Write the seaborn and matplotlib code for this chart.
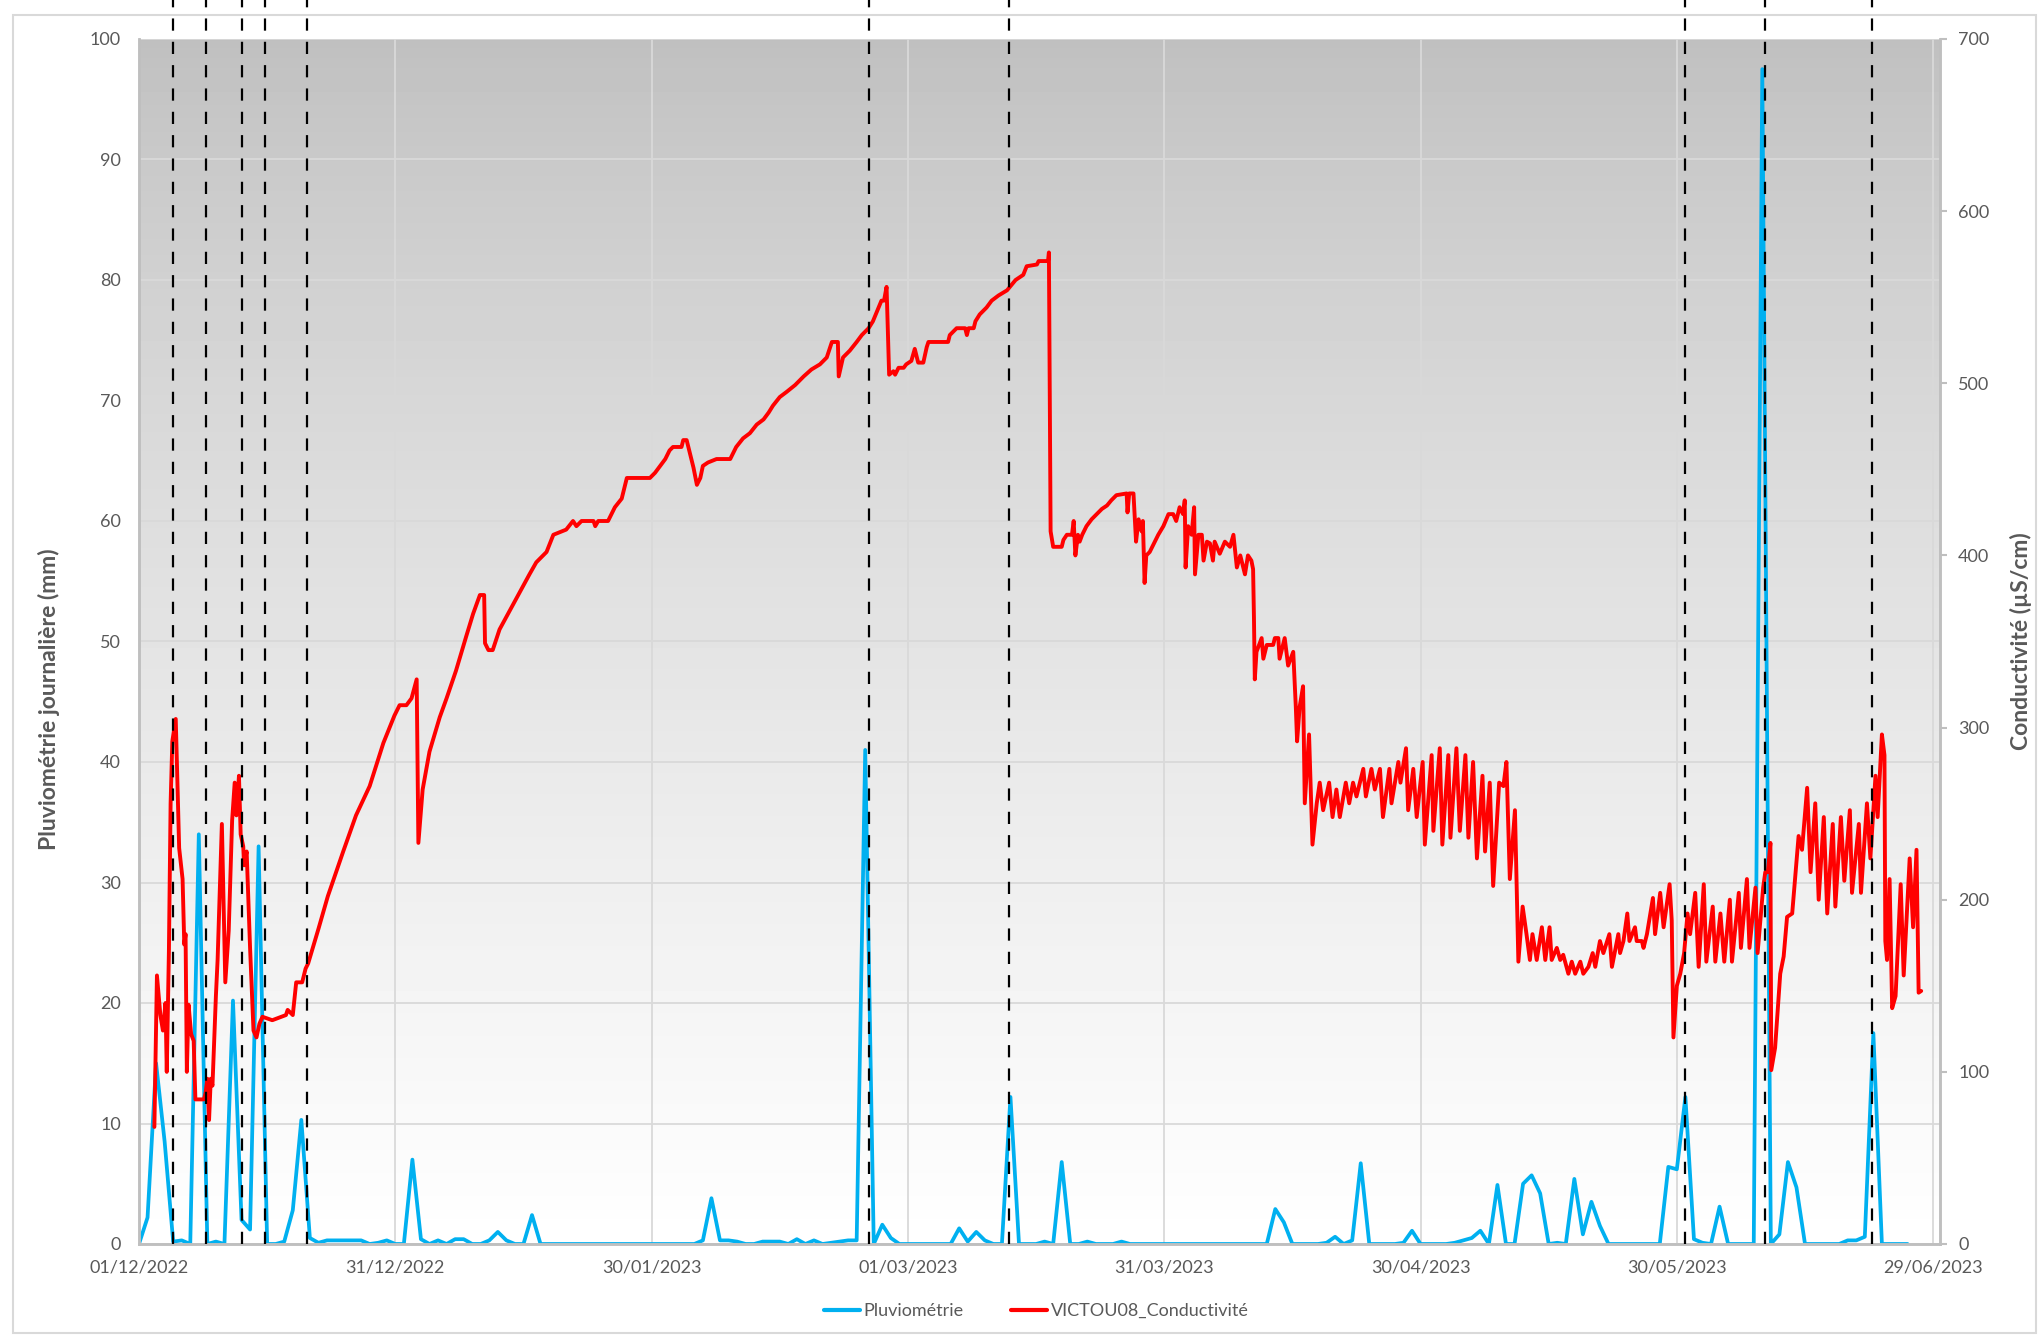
import numpy as np
import pandas as pd
import matplotlib
matplotlib.use("Agg")
import matplotlib.pyplot as plt
import seaborn as sns
from matplotlib.patches import Rectangle
from matplotlib.lines import Line2D

START = pd.Timestamp("2022-12-01")

# Daily rainfall (mm), one value per day starting 01/12/2022
rain_mm = [
    0.0, 2.2, 15.0, 8.5, 0.2, 0.3, 0.0, 34.0, 0.0, 0.2,
    0.0, 20.2, 2.0, 1.2, 33.0, 0.0, 0.0, 0.2, 2.8, 10.3,
    0.5, 0.1, 0.3, 0.3, 0.3, 0.3, 0.3, 0.0, 0.1, 0.3,
    0.0, 0.0, 7.0, 0.4, 0.0, 0.3, 0.0, 0.4, 0.4, 0.0,
    0.0, 0.3, 1.0, 0.3, 0.0, 0.0, 2.4, 0.0, 0.0, 0.0,
    0.0, 0.0, 0.0, 0.0, 0.0, 0.0, 0.0, 0.0, 0.0, 0.0,
    0.0, 0.0, 0.0, 0.0, 0.0, 0.0, 0.3, 3.8, 0.3, 0.3,
    0.2, 0.0, 0.0, 0.2, 0.2, 0.2, 0.0, 0.4, 0.0, 0.3,
    0.0, 0.1, 0.2, 0.3, 0.3, 41.0, 0.0, 1.6, 0.5, 0.0,
    0.0, 0.0, 0.0, 0.0, 0.0, 0.0, 1.3, 0.2, 1.0, 0.3,
    0.0, 0.0, 12.2, 0.0, 0.0, 0.0, 0.2, 0.0, 6.8, 0.0,
    0.0, 0.2, 0.0, 0.0, 0.0, 0.2, 0.0, 0.0, 0.0, 0.0,
    0.0, 0.0, 0.0, 0.0, 0.0, 0.0, 0.0, 0.0, 0.0, 0.0,
    0.0, 0.0, 0.0, 2.9, 1.8, 0.0, 0.0, 0.0, 0.0, 0.1,
    0.6, 0.0, 0.3, 6.7, 0.0, 0.0, 0.0, 0.0, 0.1, 1.1,
    0.0, 0.0, 0.0, 0.0, 0.1, 0.3, 0.5, 1.1, 0.0, 4.9,
    0.0, 0.0, 5.0, 5.7, 4.2, 0.0, 0.1, 0.0, 5.4, 0.8,
    3.5, 1.5, 0.0, 0.0, 0.0, 0.0, 0.0, 0.0, 0.0, 6.4,
    6.2, 12.2, 0.4, 0.1, 0.0, 3.1, 0.0, 0.0, 0.0, 0.0,
    97.5, 0.0, 0.8, 6.8, 4.7, 0.0, 0.0, 0.0, 0.0, 0.0,
    0.3, 0.3, 0.6, 17.5, 0.0, 0.0, 0.0, 0.0,
]

# Conductivity (µS/cm) as (days since 01/12/2022, value) pairs, by period
cond_december = [
    (1.8, 68), (2.1, 156), (2.5, 133), (2.8, 124), (3.1, 140), (3.25, 100),
    (3.5, 170), (3.7, 256), (3.9, 292), (4.3, 305), (4.7, 230), (5.1, 212),
    (5.3, 174), (5.45, 180), (5.6, 100), (5.8, 139), (6.1, 122), (6.4, 118),
    (6.6, 84), (7.6, 84), (7.8, 88), (8.0, 96), (8.2, 72), (8.4, 96),
    (8.6, 92), (9.0, 144), (9.2, 165), (9.7, 244), (10.1, 152), (10.5, 182),
    (10.9, 246), (11.2, 268), (11.4, 249), (11.7, 272), (11.9, 238), (12.2, 231),
    (12.3, 220), (12.6, 228), (13.0, 172), (13.4, 124), (13.75, 120), (14.1, 128),
    (14.45, 132), (15.6, 130), (17.2, 133), (17.4, 136), (18.0, 133), (18.4, 152),
    (19.1, 152), (19.5, 160), (19.8, 163), (21.0, 183), (22.1, 202), (23.9, 228),
    (25.4, 249), (27.0, 266), (28.6, 291), (29.9, 307),
]
cond_january = [
    (30.5, 313), (31.3, 313), (31.9, 317), (32.5, 328), (32.7, 233), (33.2, 264),
    (34.0, 286), (35.2, 306), (36.0, 317), (37.1, 333), (38.3, 353), (39.1, 366),
    (39.9, 377), (40.4, 377), (40.5, 349), (40.9, 345), (41.4, 345), (42.2, 357),
    (43.4, 368), (44.6, 379), (45.7, 389), (46.5, 396), (47.7, 402), (48.5, 412),
    (50.0, 415), (50.8, 420), (51.2, 417), (51.8, 420), (53.2, 420), (53.4, 417),
    (53.75, 420), (54.9, 420), (55.7, 428), (56.5, 433), (57.1, 445), (59.8, 445),
]
cond_february = [
    (60.4, 448), (61.0, 452), (61.6, 456), (62.1, 461), (62.5, 463), (63.5, 463),
    (63.7, 467), (64.1, 467), (64.5, 459), (64.9, 451), (65.3, 441), (65.7, 445),
    (66.0, 452), (66.6, 454), (67.6, 456), (69.2, 456), (69.9, 463), (70.7, 468),
    (71.5, 471), (72.3, 476), (73.1, 479), (73.7, 483), (74.2, 487), (75.0, 492),
    (75.8, 495), (76.8, 499), (77.8, 504), (78.7, 508), (79.7, 511), (80.5, 515),
    (81.1, 524), (81.8, 524), (81.9, 504), (82.4, 515), (83.2, 519), (84.0, 524),
    (84.6, 528), (85.4, 532), (85.9, 536), (86.4, 542), (86.9, 548), (87.2, 548),
    (87.5, 556), (87.8, 505), (88.3, 507), (88.5, 505), (88.9, 509), (89.5, 509),
]
cond_march = [
    (89.8, 511), (90.4, 513), (90.8, 520), (91.2, 512), (91.8, 512), (92.2, 521),
    (92.4, 524), (94.7, 524), (94.9, 528), (95.7, 532), (96.7, 532), (96.9, 528),
    (97.1, 532), (97.7, 532), (97.9, 536), (98.4, 540), (99.2, 544), (99.8, 548),
    (100.6, 551), (101.6, 554), (102.6, 560), (103.5, 563), (103.9, 568), (105.1, 569),
    (105.3, 571), (106.4, 571), (106.5, 576), (106.7, 414), (107.0, 405), (108.0, 405),
    (108.2, 409), (108.6, 412), (109.2, 412), (109.4, 420), (109.6, 400), (109.9, 412),
    (110.1, 408), (110.4, 412), (110.9, 417), (111.5, 421), (112.1, 424), (112.7, 427),
    (113.3, 429), (113.8, 432), (114.4, 435), (115.6, 436), (115.7, 425), (115.9, 436),
    (116.4, 436), (116.7, 408), (117.0, 421), (117.35, 414), (117.5, 420), (117.7, 384),
    (117.9, 400), (118.3, 402), (118.9, 408), (119.3, 412), (119.9, 417),
]
cond_april = [
    (120.5, 424), (121.05, 424), (121.4, 420), (121.8, 428), (122.2, 424), (122.4, 432),
    (122.5, 393), (122.8, 417), (123.2, 412), (123.5, 428), (123.6, 389), (124.0, 412),
    (124.4, 412), (124.6, 397), (125.0, 408), (125.35, 407), (125.7, 397), (125.9, 408),
    (126.5, 401), (127.1, 408), (127.7, 405), (128.1, 412), (128.5, 393), (128.9, 400),
    (129.45, 389), (129.8, 400), (130.2, 397), (130.4, 392), (130.5, 364), (130.6, 328),
    (130.8, 344), (131.4, 352), (131.6, 340), (132.0, 348), (132.75, 348), (132.95, 352),
    (133.35, 352), (133.5, 340), (134.1, 352), (134.5, 336), (135.1, 344), (135.4, 312),
    (135.55, 292), (135.85, 312), (136.25, 324), (136.45, 256), (136.95, 296), (137.35, 232),
    (137.85, 256), (138.2, 268), (138.6, 252), (139.3, 268), (139.7, 248), (140.15, 264),
    (140.55, 248), (141.25, 268), (141.65, 256), (142.1, 268), (142.5, 260), (143.3, 276),
    (143.6, 260), (144.25, 276), (144.65, 264), (145.25, 276), (145.6, 248), (146.35, 276),
    (146.6, 256), (147.4, 280), (147.65, 268), (148.3, 288), (148.55, 252), (149.15, 276),
    (149.55, 248),
]
cond_may = [
    (150.25, 280), (150.5, 232), (151.3, 284), (151.5, 240), (152.25, 288), (152.55, 232),
    (153.25, 284), (153.5, 236), (154.2, 288), (154.6, 240), (155.25, 284), (155.6, 236),
    (156.15, 280), (156.6, 224), (157.25, 272), (157.55, 228), (158.1, 268), (158.5, 208),
    (159.2, 268), (159.7, 266), (160.05, 280), (160.45, 212), (161.05, 252), (161.45, 164),
    (161.95, 196), (162.4, 180), (162.8, 165), (163.1, 180), (163.6, 165), (164.2, 184),
    (164.6, 165), (165.1, 184), (165.35, 165), (165.95, 172), (166.35, 165), (166.7, 168),
    (167.3, 157), (167.7, 164), (168.1, 157), (168.7, 164), (169.05, 157), (169.65, 161),
    (170.15, 169), (170.45, 161), (171.0, 176), (171.4, 169), (172.1, 180), (172.4, 161),
    (173.15, 180), (173.35, 169), (173.75, 176), (174.2, 192), (174.45, 176), (175.1, 184),
    (175.3, 176), (175.9, 176), (176.1, 172), (176.5, 180), (177.2, 201), (177.45, 180),
    (178.05, 204), (178.45, 184), (179.15, 209), (179.4, 188), (179.6, 120),
]
cond_june = [
    (180.0, 150), (180.4, 157), (180.85, 169), (181.25, 192), (181.55, 180), (182.15, 204),
    (182.55, 161), (183.15, 209), (183.45, 164), (184.2, 196), (184.5, 164), (185.1, 192),
    (185.55, 164), (186.2, 200), (186.45, 164), (187.25, 204), (187.5, 172), (188.2, 212),
    (188.5, 172), (189.2, 207), (189.45, 169), (190.1, 207), (190.35, 216), (190.65, 216),
    (190.95, 233), (191.05, 101), (191.5, 114), (192.1, 157), (192.5, 167), (192.9, 190),
    (193.5, 192), (194.25, 237), (194.65, 229), (195.25, 265), (195.65, 216), (196.2, 256),
    (196.6, 200), (197.2, 248), (197.6, 192), (198.25, 244), (198.55, 196), (199.2, 248),
    (199.6, 211), (200.25, 252), (200.5, 204), (201.3, 244), (201.55, 204), (202.25, 256),
    (202.65, 224), (203.25, 272), (203.5, 248), (204.0, 296), (204.3, 284), (204.4, 176),
    (204.6, 165), (204.9, 212), (205.2, 137), (205.6, 144), (206.2, 209), (206.55, 156),
    (207.25, 224), (207.65, 184), (208.05, 229), (208.3, 146), (208.6, 147),
]

# Rain events marked with dashed verticals (days since 01/12/2022)
event_days = [4.0, 7.8, 12.1, 14.7, 19.7, 85.4, 101.8, 180.9, 190.3, 202.8]

tick_days = [0, 30, 60, 90, 120, 150, 180, 210]
tick_labels = ["01/12/2022", "31/12/2022", "30/01/2023", "01/03/2023",
               "31/03/2023", "30/04/2023", "30/05/2023", "29/06/2023"]
left_ticks = list(range(0, 101, 10))
right_ticks = list(range(0, 701, 100))

# ---------------------------------------------------------------------------
sns.set_style("white")
plt.rcParams["font.family"] = ["Lato", "DejaVu Sans"]

TXT = "#595959"
GRID = "#D9D9D9"
AXL = "#BFBFBF"
BLUE = "#00B0F0"
RED = "#FF0000"

W, H = 2040, 1336
fig = plt.figure(figsize=(W / 100, H / 100), dpi=100)
L, R, T, B = 139, 1940, 39, 1244
rect = [L / W, 1 - B / H, (R - L) / W, (B - T) / H]

# gradient plot-area background
bg = fig.add_axes(rect, zorder=-1)
t = np.linspace(0, 1, 400)[:, None]
shade = (191 + 64 * t ** 0.8) / 255.0
bg.imshow(np.repeat(shade, 2, axis=1), cmap="gray", vmin=0, vmax=1,
          aspect="auto", extent=(0, 1, 0, 1), origin="upper", interpolation="bilinear")
bg.axis("off")

ax = fig.add_axes(rect)
ax.patch.set_visible(False)
ax2 = ax.twinx()

rain_df = pd.DataFrame({
    "date": START + pd.to_timedelta(np.arange(len(rain_mm)), unit="D"),
    "mm": rain_mm,
})
cond_pairs = cond_december + cond_january + cond_february + cond_march + cond_april + cond_may + cond_june
cond_df = pd.DataFrame(cond_pairs, columns=["day", "us"])
cond_df["date"] = START + pd.to_timedelta(cond_df["day"], unit="D")

sns.lineplot(data=rain_df, x="date", y="mm", ax=ax, color=BLUE, lw=2.7,
             estimator=None, legend=False)
sns.lineplot(data=cond_df, x="date", y="us", ax=ax2, color=RED, lw=2.8,
             estimator=None, legend=False)

xmin = START
xmax = START + pd.Timedelta(days=210.8)
ax.set_xlim(xmin, xmax)
ax.set_ylim(0, 100)
ax2.set_ylim(0, 700)

tick_dates = [START + pd.Timedelta(days=d) for d in tick_days]
ax.set_xticks(tick_dates)
ax.set_xticklabels(tick_labels)
ax.set_yticks(left_ticks)
ax2.set_yticks(right_ticks)

ax.grid(True, axis="both", color=GRID, lw=1.3)
ax.set_axisbelow(True)
ax2.grid(False)

for a in (ax, ax2):
    a.spines["top"].set_visible(False)
    for sp in ["left", "right", "bottom"]:
        a.spines[sp].set_color(AXL)
        a.spines[sp].set_linewidth(1.8)

ax.tick_params(axis="y", length=0, pad=13, labelsize=13, labelcolor=TXT)
ax.tick_params(axis="x", length=0, pad=11, labelsize=13, labelcolor=TXT)
ax2.tick_params(axis="y", length=5, width=1.5, color=AXL, pad=8, labelsize=13, labelcolor=TXT)

ax.set_xlabel("")
ax.set_ylabel("Pluviométrie journalière (mm)", fontsize=16.5, fontweight="bold", color=TXT)
ax.yaxis.set_label_coords(-0.044, 0.452)
ax2.set_ylabel("Conductivité (µS/cm)", fontsize=16.5, fontweight="bold", color=TXT, rotation=90)
ax2.yaxis.set_label_coords(1.039, 0.5)

# dashed event markers, running up to the top edge of the image
top_frac = B / (B - T)
for d in event_days:
    ax2.axvline(START + pd.Timedelta(days=d), ymin=0, ymax=top_frac, clip_on=False,
                color="black", lw=1.6, ls=(0, (5.5, 5.0)), zorder=5)

handles = [Line2D([], [], color=BLUE, lw=3), Line2D([], [], color=RED, lw=3)]
fig.legend(handles, ["Pluviométrie", "VICTOU08_Conductivité"], loc="center",
           bbox_to_anchor=(0.508, 0.0187), ncol=2, frameon=False, fontsize=13,
           handlelength=2.0, handletextpad=0.2, columnspacing=2.6, labelcolor=TXT)

# outer chart border
fig.add_artist(Rectangle((13 / W, 3 / H), (2036 - 13) / W, (1321 - 3) / H,
                         transform=fig.transFigure, fill=False, ec=GRID, lw=1.5))

fig.savefig("out.png", dpi=100)
